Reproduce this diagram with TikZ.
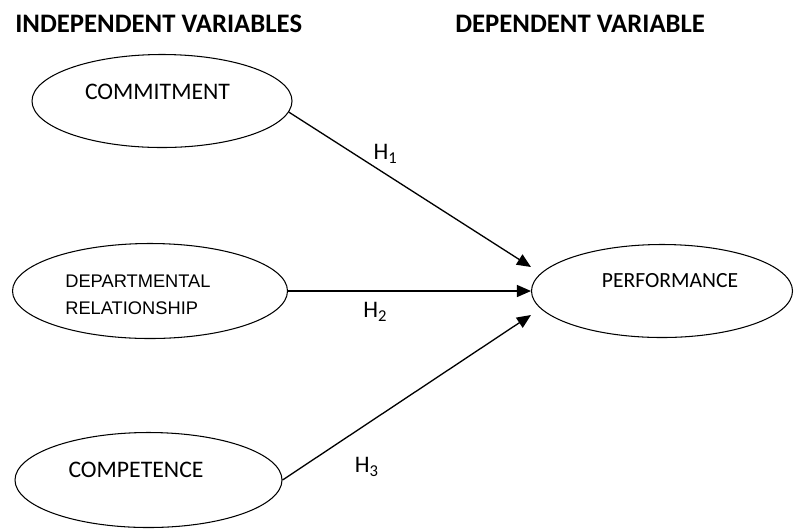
\documentclass[tikz,border=0pt]{standalone}
\usepackage{fontspec}
\setmainfont{Carlito}
\newfontfamily\arialfont{Liberation Sans}
\usepackage{tikz}
\usetikzlibrary{arrows.meta,shapes.geometric,positioning}
\tikzset{
    construct/.style={ellipse, draw=black, line width=0.6pt, minimum width=5.2cm, minimum height=1.86cm, inner sep=0pt},
    ctext/.style={inner sep=0pt, font=\fontsize{13.5}{15}\selectfont},
    heading/.style={inner sep=0pt, anchor=west, font=\fontsize{15.2}{17}\selectfont\bfseries},
    hyp/.style={-{Triangle[length=0.28cm,width=0.24cm]}, line width=0.75pt},
    hlabel/.style={inner sep=0pt, font=\fontsize{13.5}{15}\selectfont}
}
\begin{document}
\begin{tikzpicture}
\useasboundingbox (0,0) rectangle (15.88,-10.58);

% Column headings
\node[heading] (indep) at (0.3,-0.47) {INDEPENDENT VARIABLES};
\node[heading] (dep) at (9.1,-0.47) {DEPENDENT VARIABLE};

% Independent variables
\node[construct] (commit) at (3.24,-2.02) {};
\node[ctext] (committext) at ([xshift=-0.09cm,yshift=0.19cm]commit.center) {COMMITMENT};

\node[construct, minimum width=5.5cm, minimum height=1.9cm] (dept) at (3.0,-5.82) {};
\node[ctext, anchor=west, align=left, font=\arialfont\fontsize{10.4}{15.2}\selectfont] (depttext) at (1.3,-5.9) {DEPARTMENTAL\\RELATIONSHIP};

\node[construct, minimum width=5.34cm, minimum height=1.9cm] (comp) at (2.97,-9.6) {};
\node[ctext] (comptext) at ([xshift=-0.25cm,yshift=0.2cm]comp.center) {COMPETENCE};

% Dependent variable
\node[construct, minimum width=5.22cm] (perf) at (13.24,-5.82) {};
\node[ctext, font=\fontsize{12.3}{14}\selectfont] (perftext) at ([xshift=0.16cm,yshift=0.2cm]perf.center) {PERFORMANCE};

% Hypotheses
\draw[hyp] (commit.-5) -- ([yshift=0.48cm]perf.west) node[hlabel, pos=0.4, yshift=0.4cm] {H\textsubscript{1}};
\draw[hyp] (dept.east) -- (perf.west) node[hlabel, pos=0.36, yshift=-0.42cm] {H\textsubscript{2}};
\draw[hyp] (comp.east) -- ([yshift=-0.48cm]perf.west) node[hlabel, pos=0.34, yshift=-0.86cm] {H\textsubscript{3}};

\end{tikzpicture}
\end{document}
